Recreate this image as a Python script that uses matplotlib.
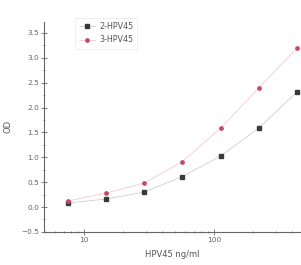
import numpy as np
import matplotlib.pyplot as plt
from matplotlib.ticker import FixedLocator, LogLocator, NullFormatter

# concentrations (ng/ml) and OD readings
conc = [7.5, 14.8, 29, 57, 113, 222, 437]
od_2 = [0.08, 0.16, 0.30, 0.61, 1.03, 1.59, 2.32]
od_3 = [0.12, 0.28, 0.48, 0.91, 1.59, 2.40, 3.20]
labels = ["2-HPV45", "3-HPV45"]

fig = plt.figure(figsize=(3.01, 2.65), dpi=100)
ax = fig.add_axes([0.146, 0.125, 0.854, 0.792])

ax.plot(conc, od_2, color="#cfcfcf", lw=0.6, marker="s", ms=2.2,
        mfc="#3a3a3a", mec="#3a3a3a", label=labels[0])
ax.plot(conc, od_3, color="#f8c8d2", lw=0.6, marker="o", ms=2.4,
        mfc="#c04a66", mec="#c04a66", label=labels[1])

ax.set_xscale("log")
ax.set_xlim(4.92, 467)
ax.set_ylim(-0.5, 3.72)
ax.set_yticks(np.arange(-0.5, 3.6, 0.5))
ax.yaxis.set_minor_locator(FixedLocator(np.arange(-0.5, 3.6, 0.25)))
ax.xaxis.set_major_locator(FixedLocator([10, 100]))
ax.xaxis.set_minor_locator(LogLocator(base=10, subs=np.arange(2, 10)))
ax.xaxis.set_minor_formatter(NullFormatter())
ax.set_xticklabels(["10", "100"])

for s in ["top", "right"]:
    ax.spines[s].set_visible(False)
for s in ["left", "bottom"]:
    ax.spines[s].set_color("#666666")
    ax.spines[s].set_linewidth(0.8)

ax.tick_params(axis="both", which="major", direction="inout", length=4, width=0.6,
               labelsize=5.3, colors="#666666", pad=1.5)
ax.tick_params(axis="both", which="minor", direction="inout", length=2, width=0.5,
               colors="#666666")

ax.set_xlabel("HPV45 ng/ml", fontsize=6, color="#555555", labelpad=5)
ax.set_ylabel("OD", fontsize=6, color="#555555", labelpad=6)

leg = ax.legend(loc="upper left", bbox_to_anchor=(0.105, 1.04), fontsize=5.8,
                frameon=True, fancybox=False, handlelength=2.0, borderpad=0.5,
                labelspacing=0.6, handletextpad=0.5)
leg.get_frame().set_edgecolor("#e2e2e2")
leg.get_frame().set_linewidth(0.5)
for t in leg.get_texts():
    t.set_color("#555555")

fig.savefig("out.png", dpi=100)
